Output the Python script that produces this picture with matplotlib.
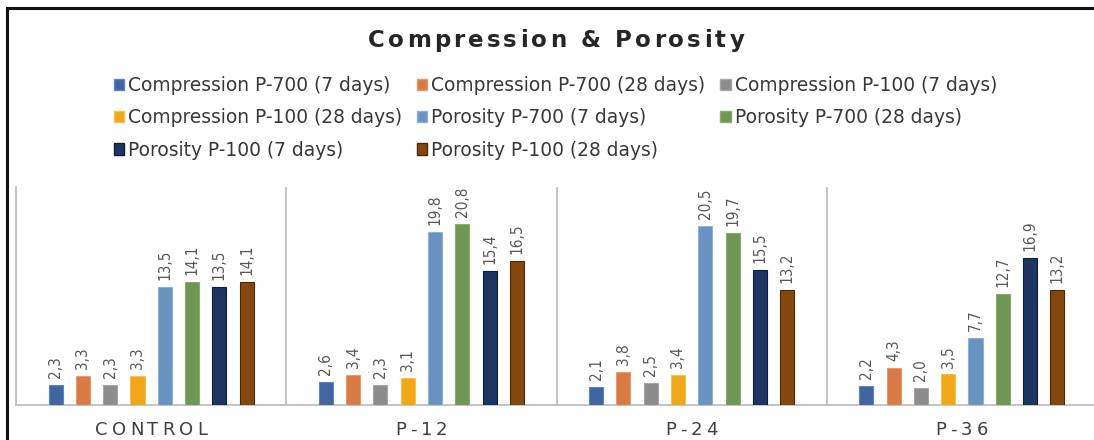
import matplotlib
matplotlib.use('Agg')
import matplotlib.pyplot as plt
import numpy as np
from matplotlib.font_manager import FontProperties, findfont, get_font
from matplotlib.patches import Patch, Rectangle
from matplotlib.transforms import IdentityTransform

categories = ['CONTROL', 'P-12', 'P-24', 'P-36']
series_names = [
    'Compression P-700 (7 days)',
    'Compression P-700 (28 days)',
    'Compression P-100 (7 days)',
    'Compression P-100 (28 days)',
    'Porosity P-700 (7 days)',
    'Porosity P-700 (28 days)',
    'Porosity P-100 (7 days)',
    'Porosity P-100 (28 days)',
]
comp_p700_7 = [2.3, 2.6, 2.1, 2.2]
comp_p700_28 = [3.3, 3.4, 3.8, 4.3]
comp_p100_7 = [2.3, 2.3, 2.5, 2.0]
comp_p100_28 = [3.3, 3.1, 3.4, 3.5]
por_p700_7 = [13.5, 19.8, 20.5, 7.7]
por_p700_28 = [14.1, 20.8, 19.7, 12.7]
por_p100_7 = [13.5, 15.4, 15.5, 16.9]
por_p100_28 = [14.1, 16.5, 13.2, 13.2]
series = [comp_p700_7, comp_p700_28, comp_p100_7, comp_p100_28,
          por_p700_7, por_p700_28, por_p100_7, por_p100_28]
colors = ['#41669f', '#d87b45', '#8c8c8c', '#f0a81a',
          '#6b93c2', '#6f9654', '#1d3561', '#84480f']
edges = ['#5b85c4', '#e99a68', '#a6a6a6', '#f7c14f',
         '#8fb0d8', '#86ac6a', '#0e1d38', '#4d2806']

W, H = 1094, 440
fig = plt.figure(figsize=(W / 100, H / 100), dpi=100)


def tracked_text(x, y, s, track, size, weight='normal', color='#262626', family='DejaVu Sans'):
    # place a string glyph by glyph (display pixels, baseline at y) with extra letter spacing
    prop = FontProperties(family=family, size=size, weight=weight)
    font = get_font(findfont(prop))
    font.set_size(size, fig.dpi)
    adv = [font.load_char(ord(c)).linearHoriAdvance / 65536 for c in s]
    total = sum(adv) + track * (len(s) - 1)
    cx = x - total / 2
    for c, a in zip(s, adv):
        if c != ' ':
            fig.text(cx + a / 2, y, c, transform=IdentityTransform(), ha='center',
                     va='baseline', fontproperties=prop, color=color)
        cx += a + track


# chart frame (only the top and left edges fall inside the image)
fig.patches.append(Rectangle((7 / W, -0.2), 1.2, 1.2 - 8 / H, transform=fig.transFigure,
                             fill=False, edgecolor='#111111', linewidth=2.2))

ax = fig.add_axes([16 / W, 1 - 405 / H, 1081 / W, 218 / H])
x = np.arange(len(categories))
slot = 0.101
for i, (vals, col, ec) in enumerate(zip(series, colors, edges)):
    pos = x + (i - 3.5) * slot
    ax.bar(pos, vals, width=0.052, color=col, edgecolor=ec, linewidth=0.8,
           label=series_names[i], zorder=3)
    for px, v in zip(pos, vals):
        ax.annotate(f'{v:.1f}'.replace('.', ','), (px, v), xytext=(0, 5),
                    textcoords='offset points', rotation=90, ha='center', va='bottom',
                    fontsize=11, color='#595959', family='DejaVu Sans',
                    fontstretch='condensed')

ax.set_xlim(-0.5, 3.5)
ax.set_ylim(0, 25)
ax.set_xticks([])
ax.set_yticks([])
for s in ['top', 'right']:
    ax.spines[s].set_visible(False)
for s in ['left', 'bottom']:
    ax.spines[s].set_color('#bfbfbf')
    ax.spines[s].set_linewidth(1.3)
for b in x[:-1] + 0.5:
    ax.axvline(b, color='#bfbfbf', linewidth=1.3, zorder=1)

# category labels, spaced out under each group
for i, name in enumerate(categories):
    px, _ = ax.transData.transform((i, 0))
    tracked_text(px, H - 435, name, 4.0, 13, color='#404040')

tracked_text(556, H - 47, 'Compression & Porosity', 3.2, 16.5, weight='bold')

# legend laid out row by row
handles = [Patch(facecolor=c, edgecolor=e) for c, e in zip(colors, edges)]
order = [0, 3, 6, 1, 4, 7, 2, 5]
fig.legend([handles[k] for k in order], [series_names[k] for k in order],
           ncol=3, loc='upper left', bbox_to_anchor=(97 / W, 1 - 59 / H),
           frameon=False, prop={'family': 'DejaVu Sans', 'size': 13.4},
           handlelength=0.55, handleheight=0.55, handletextpad=0.22,
           columnspacing=0.8, labelspacing=0.72, labelcolor='#383838')

fig.savefig('out.png', dpi=100, facecolor='white')
